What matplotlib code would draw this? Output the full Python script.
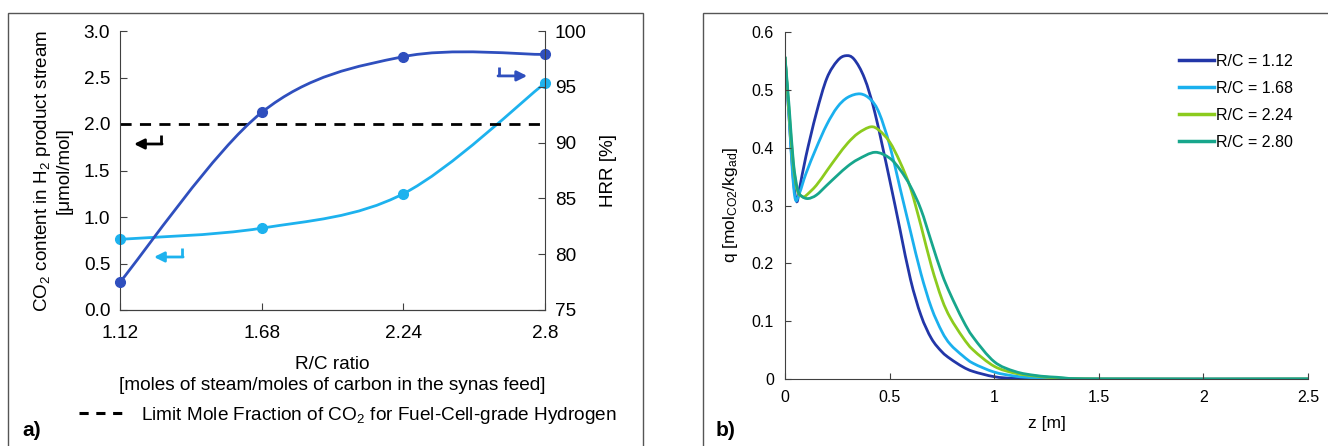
import numpy as np
import matplotlib
matplotlib.use("Agg")
import matplotlib.pyplot as plt
from matplotlib.path import Path
from matplotlib.patches import PathPatch, Rectangle
from matplotlib.lines import Line2D

plt.rcParams['font.family'] = ['Liberation Sans', 'DejaVu Sans']
plt.rcParams['mathtext.default'] = 'regular'

# ---- panel a) data ----
rc_ratio = [1.12, 1.68, 2.24, 2.8]
rc_labels = ['1.12', '1.68', '2.24', '2.8']
co2_content = [0.76, 0.88, 1.25, 2.44]      # umol/mol, left axis
hrr = [77.5, 92.7, 97.7, 97.9]               # %, right axis
co2_limit = 2.0

# ---- panel b) data (read off the curves) ----
z_112 = [0, 0.02, 0.04, 0.056, 0.07, 0.1, 0.15, 0.2, 0.25, 0.29, 0.33, 0.38, 0.43,
         0.5, 0.55, 0.6, 0.65, 0.7, 0.75, 0.79, 0.85, 0.9, 1.0, 1.1, 1.3, 2.5]
q_112 = [0.557, 0.45, 0.345, 0.307, 0.33, 0.385, 0.46, 0.52, 0.55, 0.559, 0.553, 0.52, 0.46,
         0.345, 0.258, 0.172, 0.11, 0.07, 0.047, 0.035, 0.021, 0.013, 0.004, 0.001, 0, 0]
z_168 = [0, 0.02, 0.035, 0.05, 0.07, 0.1, 0.15, 0.2, 0.25, 0.3, 0.36, 0.41, 0.45,
         0.5, 0.55, 0.6, 0.65, 0.7, 0.75, 0.79, 0.85, 0.9, 1.0, 1.1, 1.2, 1.4, 2.5]
q_168 = [0.557, 0.45, 0.36, 0.31, 0.322, 0.355, 0.40, 0.44, 0.47, 0.487, 0.493, 0.483, 0.46,
         0.405, 0.33, 0.255, 0.182, 0.123, 0.082, 0.06, 0.04, 0.027, 0.012, 0.005, 0.002, 0, 0]
z_224 = [0, 0.02, 0.04, 0.06, 0.086, 0.1, 0.15, 0.2, 0.25, 0.3, 0.35, 0.41, 0.45,
         0.5, 0.55, 0.6, 0.65, 0.7, 0.75, 0.79, 0.85, 0.9, 1.0, 1.1, 1.2, 1.3, 1.5, 2.5]
q_224 = [0.557, 0.46, 0.37, 0.325, 0.315, 0.317, 0.335, 0.36, 0.385, 0.408, 0.425, 0.436, 0.43,
         0.41, 0.375, 0.33, 0.265, 0.195, 0.138, 0.106, 0.072, 0.05, 0.022, 0.01, 0.005, 0.002, 0, 0]
z_280 = [0, 0.02, 0.04, 0.06, 0.08, 0.11, 0.15, 0.2, 0.25, 0.3, 0.35, 0.43, 0.5,
         0.55, 0.6, 0.65, 0.7, 0.75, 0.79, 0.85, 0.9, 1.0, 1.1, 1.2, 1.3, 1.5, 2.5]
q_280 = [0.557, 0.47, 0.375, 0.328, 0.316, 0.312, 0.318, 0.335, 0.352, 0.368, 0.38, 0.392, 0.382,
         0.362, 0.333, 0.293, 0.237, 0.182, 0.147, 0.102, 0.072, 0.03, 0.013, 0.006, 0.003, 0, 0]

c_dark = '#2F4FBE'
c_light = '#1DB2EE'
col_b = ['#2236A8', '#1AB0EE', '#8CCB1E', '#17A68C']
lab_b = ['R/C = 1.12', 'R/C = 1.68', 'R/C = 2.24', 'R/C = 2.80']

W, H = 1328, 446
fig = plt.figure(figsize=(W / 100, H / 100), dpi=100)


def smooth_path(x, y):
    # Excel-style smoothed line: cubic Bezier segments through the points
    x = np.asarray(x, float)
    y = np.asarray(y, float)
    n = len(x)
    verts = [(x[0], y[0])]
    codes = [Path.MOVETO]
    for i in range(n - 1):
        i0 = max(i - 1, 0)
        i3 = min(i + 2, n - 1)
        c1 = (x[i] + (x[i + 1] - x[i0]) / 6, y[i] + (y[i + 1] - y[i0]) / 6)
        c2 = (x[i + 1] - (x[i3] - x[i]) / 6, y[i + 1] - (y[i3] - y[i]) / 6)
        verts += [c1, c2, (x[i + 1], y[i + 1])]
        codes += [Path.CURVE4] * 3
    return Path(verts, codes)


# ---------------- panel a) ----------------
ax = fig.add_axes([120 / W, 1 - 310 / H, 425 / W, 279 / H])
ax2 = ax.twinx()
ax.set_xlim(1.12, 2.8)
ax.set_ylim(0, 3)
ax2.set_ylim(75, 100)

ax.plot(rc_ratio, [co2_limit] * 4, color='black', lw=2, dashes=(4, 3))
ax.add_patch(PathPatch(smooth_path(rc_ratio, co2_content), fc='none', ec=c_light, lw=2))
ax.plot(rc_ratio, co2_content, 'o', color=c_light, ms=7, clip_on=False)
ax2.add_patch(PathPatch(smooth_path(rc_ratio, hrr), fc='none', ec=c_dark, lw=2))
ax2.plot(rc_ratio, hrr, 'o', color=c_dark, ms=7, clip_on=False)

ax.set_xticks(rc_ratio)
ax.set_xticklabels(rc_labels)
ax.set_yticks(np.arange(0, 3.01, 0.5))
ax.set_yticklabels([f'{v:.1f}' for v in np.arange(0, 3.01, 0.5)])
ax2.set_yticks(range(75, 101, 5))
for a in (ax, ax2):
    a.spines['top'].set_visible(False)
    for s in a.spines.values():
        s.set_color('#404040')
    a.tick_params(direction='in', length=5, labelsize=13.7, color='#404040', pad=7)
ax.spines['right'].set_visible(False)
ax2.spines['left'].set_visible(False)
ax.tick_params(axis='x', pad=11)

ax.set_ylabel('CO$_2$ content in H$_2$ product stream\n[μmol/mol]', fontsize=13.6, labelpad=8)
ax2.set_ylabel('HRR [%]', fontsize=13.6, labelpad=10)
ax.set_xlabel('R/C ratio\n[moles of steam/moles of carbon in the synas feed]', fontsize=13.7,
              labelpad=10, linespacing=1.3)

# L-shaped arrows pointing at the axis each curve belongs to
def l_arrow(x0, y_top, y_bot, x1, color):
    ax.plot([x0, x0], [y_top, y_bot], color=color, lw=2, transform=ax.transAxes,
            clip_on=False, solid_capstyle='butt')
    ax.annotate('', xy=(x1, y_bot), xytext=(x0 + 0.0025 * np.sign(x0 - x1), y_bot),
                xycoords='axes fraction',
                arrowprops=dict(arrowstyle='-|>', color=color, lw=2, mutation_scale=15,
                                shrinkA=0, shrinkB=0))

l_arrow(0.0965, 0.627, 0.595, 0.033, 'black')
l_arrow(0.146, 0.222, 0.19, 0.08, c_light)
l_arrow(0.892, 0.871, 0.839, 0.958, c_dark)

fig.legend(handles=[Line2D([], [], color='black', lw=2.2, dashes=(3, 2.5))],
           labels=['Limit Mole Fraction of CO$_2$ for Fuel-Cell-grade Hydrogen'],
           loc='center', bbox_to_anchor=(348 / W, 1 - 415 / H), frameon=False,
           fontsize=13.7, handlelength=2.4, handletextpad=0.85)

# ---------------- panel b) ----------------
bx = fig.add_axes([785 / W, 1 - 379 / H, 523 / W, 347 / H])
series = [(z_112, q_112), (z_168, q_168), (z_224, q_224), (z_280, q_280)]
handles = []
for (zz, qq), c, lab in zip(series, col_b, lab_b):
    bx.add_patch(PathPatch(smooth_path(zz, qq), fc='none', ec=c, lw=2))
    handles.append(Line2D([], [], color=c, lw=2.5, label=lab))
bx.set_xlim(0, 2.5)
bx.set_ylim(0, 0.6)
bx.set_xticks([0, 0.5, 1, 1.5, 2, 2.5])
bx.set_xticklabels(['0', '0.5', '1', '1.5', '2', '2.5'])
bx.set_yticks(np.arange(0, 0.61, 0.1))
bx.set_yticklabels(['0'] + [f'{v:.1f}' for v in np.arange(0.1, 0.61, 0.1)])
bx.spines['top'].set_visible(False)
bx.spines['right'].set_visible(False)
for s in bx.spines.values():
    s.set_color('#404040')
bx.tick_params(direction='in', length=4, labelsize=11.5, color='#404040', pad=8)
bx.set_xlabel('z [m]', fontsize=12.5, labelpad=8)
bx.set_ylabel('q [mol$_{CO2}$/kg$_{ad}$]', fontsize=12.5, labelpad=8)
bx.legend(handles=handles, loc='upper left', bbox_to_anchor=(1179 / W, 1 - 54 / H),
          bbox_transform=fig.transFigure, frameon=False, fontsize=11.5, handlelength=2.2,
          handletextpad=0.1, labelspacing=0.75, borderpad=0, borderaxespad=0)

# panel frames and labels
fig.patches.append(Rectangle((8 / W, -0.05), 635 / W, 1.05 - 13 / H, transform=fig.transFigure,
                             fill=False, ec='#555555', lw=1))
fig.patches.append(Rectangle((703 / W, -0.05), 630 / W, 1.05 - 13 / H, transform=fig.transFigure,
                             fill=False, ec='#555555', lw=1))
fig.text(22 / W, 1 - 430 / H, 'a)', fontsize=15, fontweight='bold', va='center')
fig.text(716 / W, 1 - 430 / H, 'b)', fontsize=15, fontweight='bold', va='center')

fig.savefig('out.png', dpi=100, facecolor='white')
